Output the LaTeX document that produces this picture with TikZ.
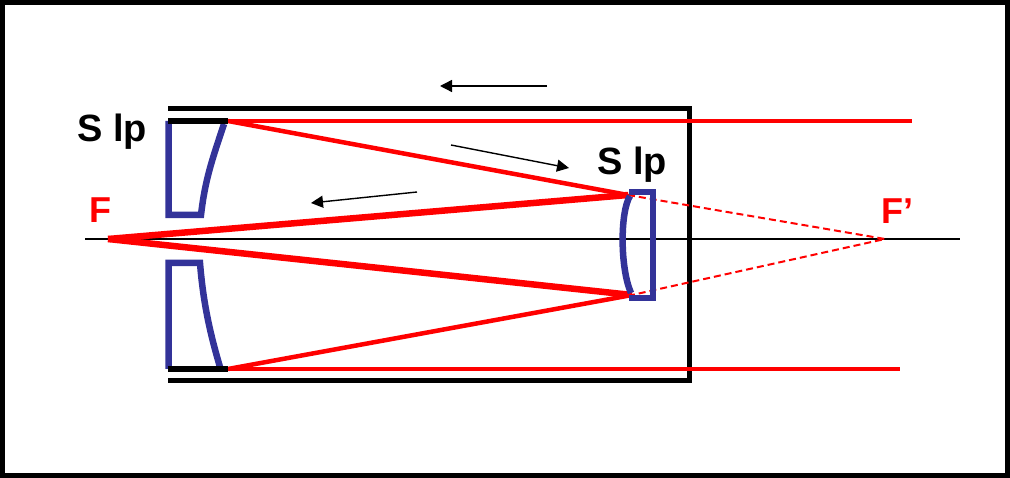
\documentclass[tikz,border=0pt]{standalone}
\usepackage{fontspec}
\setmainfont{Liberation Sans}
\usetikzlibrary{arrows.meta}
\definecolor{mirrorblue}{RGB}{51,51,153}
\tikzset{
	tube/.style={line width=5pt},
	ray/.style={red,line width=4.5pt},
	thickray/.style={red,line width=6.5pt},
	mirror/.style={draw=mirrorblue,line width=6.5pt,line join=miter},
	flow/.style={line width=1.4pt,-{Triangle[length=12pt,width=12pt]}},
	lab/.style={font=\fontsize{38}{38}\selectfont\bfseries,inner sep=0pt,anchor=base},
	focus/.style={text=red,font=\fontsize{36}{36}\selectfont\bfseries,inner sep=0pt,anchor=base}
}
\begin{document}
\begin{tikzpicture}[x=1pt,y=-1pt]
	\useasboundingbox (0,0) rectangle (1010,478);
	\draw[line width=5.5pt] (2.7,2.7) rectangle (1007.3,475.3);

	\coordinate (F) at (108,239);
	\coordinate (Fp) at (885,239);
	\coordinate (p1) at (228,121);
	\coordinate (p2) at (228,369);
	\coordinate (s1) at (628,195);
	\coordinate (s2) at (632,295);

	% optical axis
	\coordinate (axl) at (85,239);
	\coordinate (axr) at (960,239);
	\draw[line width=1.6pt] (axl) -- (axr);

	% tube
	\coordinate (t1) at (168,109);
	\coordinate (t2) at (689,109);
	\coordinate (t3) at (689,381);
	\coordinate (t4) at (168,381);
	\draw[tube,line join=miter] (t1) -- (t2) -- (t3) -- (t4);

	% rays
	\draw[ray] (p1) -- (912,121);
	\draw[ray] (p2) -- (900,369);
	\draw[ray] (p1) -- (s1);
	\draw[ray] (p2) -- (s2);
	\draw[thickray] (F) -- (s1);
	\draw[thickray] (F) -- (s2);
	\draw[red,line width=2pt,dash pattern=on 7pt off 4pt] (s1) -- (Fp) -- (s2);

	% mirrors
	\draw[mirror] (168.5,121) -- (168.5,215) -- (201,215) .. controls (205,180) and (212,160) .. (224,124);
	\draw[mirror] (168.5,369) -- (168.5,263) -- (200,263) .. controls (203,300) and (209,330) .. (220,367);
	\draw[mirror] (629,192) -- (653,192) -- (653,298) -- (629,298);
	\draw[mirror] (630,196) .. controls (620,212) and (620,268) .. (631,293);
	\draw[line width=6pt] (168,121) -- (p1);
	\draw[line width=6pt] (168,369) -- (p2);

	% direction arrows
	\coordinate (a1) at (547,86);
	\coordinate (a2) at (440,86);
	\coordinate (a3) at (451,145);
	\coordinate (a4) at (569,168);
	\coordinate (a5) at (417,192);
	\coordinate (a6) at (311,203);
	\draw[flow] (a1) -- (a2);
	\draw[flow] (a3) -- (a4);
	\draw[flow] (a5) -- (a6);

	% labels
	\node[lab] (slip1) at (112,142) {S lp};
	\node[lab] (slip2) at (632,175) {S lp};
	\node[focus] (lF) at (100,223) {F};
	\node[focus] (lFp) at (897,224) {F’};
\end{tikzpicture}
\end{document}
